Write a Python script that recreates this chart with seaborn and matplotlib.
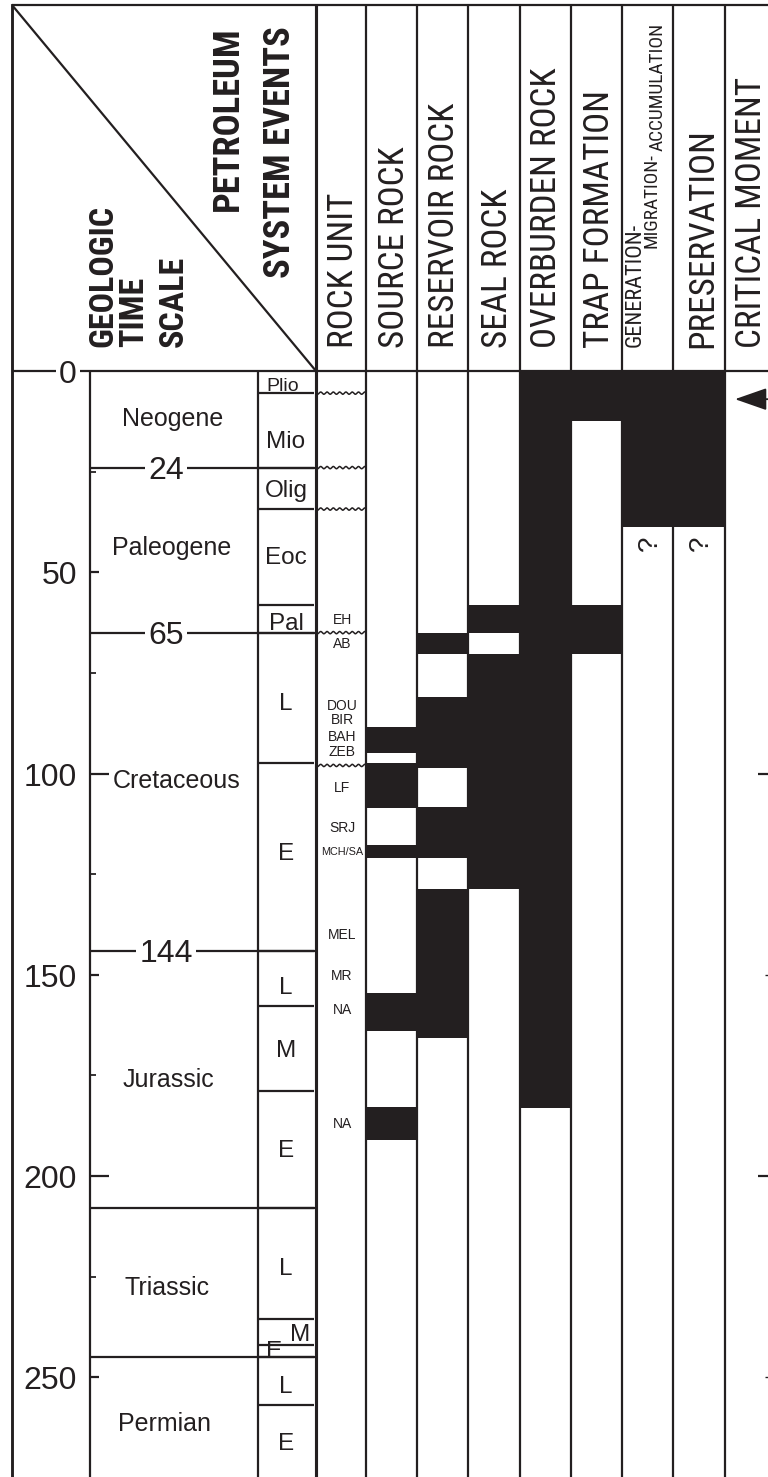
import numpy as np
import seaborn as sns
import matplotlib.pyplot as plt
from matplotlib import font_manager
from matplotlib.font_manager import FontProperties


# geologic time scale, ages in Ma
periods = ['Neogene', 'Paleogene', 'Cretaceous', 'Jurassic', 'Triassic', 'Permian']
period_bounds = [0, 24, 65, 144, 208, 245, 290]
boundary_ages = [24, 65, 144]
epochs = ['Plio', 'Mio', 'Olig', 'Eoc', 'Pal', 'L', 'E', 'L', 'M', 'E', 'L', 'M', 'E', 'L', 'E']
epoch_bounds = [0, 5.5, 24, 34.3, 58.1, 65, 97.3, 144, 157.7, 178.8, 208, 235.5, 242, 245, 256.9, 290]
unconformities = [5.5, 24, 34.3, 65, 98]
age_ticks = [0, 50, 100, 150, 200, 250]
minor_ticks = [25, 75, 125, 175, 225]

# rock units and the age they are written at
rock_units = ['EH', 'AB', 'DOU', 'BIR', 'BAH', 'ZEB', 'LF', 'SRJ', 'MCH/SA', 'MEL', 'MR', 'NA', 'NA']
rock_unit_ages = [62.9, 68.7, 84.1, 87.7, 91.9, 95.7, 104.7, 114.6, 120.2, 141.2, 151.3, 159.8, 188.1]

# petroleum system events (top, base) in Ma
events = ['SOURCE ROCK', 'RESERVOIR ROCK', 'SEAL ROCK', 'OVERBURDEN ROCK',
          'TRAP FORMATION', 'GENERATION-MIGRATION-ACCUMULATION', 'PRESERVATION']
source_rock = [(88.4, 94.9), (97.3, 108.5), (117.8, 120.9), (154.5, 164.0), (182.9, 191.0)]
reservoir_rock = [(65.0, 70.2), (80.9, 98.6), (108.3, 121.0), (128.7, 165.7)]
seal_rock = [(58.1, 65.0), (70.2, 128.7)]
overburden_rock = [(0, 183.2)]
trap_formation = [(0, 12.3), (58.1, 70.2)]
gen_mig_acc = [(0, 38.8)]
preservation = [(0, 38.8)]
event_spans = [source_rock, reservoir_rock, seal_rock, overburden_rock,
               trap_formation, gen_mig_acc, preservation]
uncertain = [False, False, False, False, False, True, True]
critical_moment = 7


# ---- layout (pixels of the 768x1477 picture) ----
PX0 = 371        # row of 0 Ma
PX_MA = 4.025    # pixels per Ma


def ma(py):
	return (py - PX0) / PX_MA


INK = '#231f20'
LW = 1.6
y_top = ma(0)
y_bot = ma(1477)
y_head = ma(5)
x_left, x_axis, x_epoch = 12, 90, 258
col_edges = [316, 366, 417, 468, 520, 571, 622, 673, 725, 790]

sns.set_theme(style='white')
plt.rcParams['font.family'] = ['Liberation Sans', 'DejaVu Sans']

# header lettering is a condensed sans in the original, use one if there is any
fonts = {(f.name, str(f.stretch)) for f in font_manager.fontManager.ttflist}
font_names = {n for n, s in fonts}
if 'Liberation Sans Narrow' in font_names:
	head = dict(family='Liberation Sans Narrow')
elif 'Roboto Condensed' in font_names:
	head = dict(family='Roboto Condensed')
elif ('Roboto', 'condensed') in fonts:
	head = dict(family='Roboto', stretch='condensed')
else:
	head = dict(family='Liberation Sans')

fig = plt.figure(figsize=(7.68, 14.77), dpi=100)
ax = fig.add_axes([0, 0, 1, 1])
ax.set_xlim(0, 768)
ax.set_ylim(y_bot, y_top)
ax.axis('off')
renderer = fig.canvas.get_renderer()


def fit_size(words, lengths, weight='normal'):
	# font size that gives the words the lengths (px) they have in the original
	sizes = []
	for w, L in zip(words, lengths):
		t = ax.text(0, 0, w, fontproperties=FontProperties(size=20, weight=weight, **head))
		sizes.append(20 * L / t.get_window_extent(renderer).width)
		t.remove()
	return sizes


def head_text(x, py, s, size, ha='left', weight='normal'):
	ax.text(x, ma(py), s, rotation=90, rotation_mode='anchor', ha=ha, va='baseline', color=INK,
			fontproperties=FontProperties(size=size, weight=weight, **head))


# frame and grid lines
ax.hlines([y_head, 0], x_left, 790, color=INK, lw=LW)
ax.vlines(x_left, y_head, y_bot, color=INK, lw=LW * 1.3)
ax.plot([x_left, col_edges[0]], [y_head, 0], color=INK, lw=LW)
ax.vlines([x_axis, x_epoch], 0, y_bot, color=INK, lw=LW)
ax.vlines(col_edges[0], y_head, y_bot, color=INK, lw=LW * 1.4)
ax.vlines(col_edges[1:-1], y_head, y_bot, color=INK, lw=LW)

# period and epoch boundaries
ax.hlines(period_bounds[1:-1], x_axis, col_edges[0], color=INK, lw=LW)
ax.hlines(epoch_bounds[1:-1], x_epoch, col_edges[0] - 2, color=INK, lw=LW)

# unconformities in the rock unit column
xw = np.linspace(col_edges[0], col_edges[1], 150)
for age in unconformities:
	ax.plot(xw, age + 0.28 * np.sin(2 * np.pi * (xw - xw[0]) / 6.3), color=INK, lw=1.1)

# age axis ticks
for t in age_ticks[1:]:
	ln = 19 if t in (100, 200) else 9
	ax.hlines(t, x_axis, x_axis + ln, color=INK, lw=LW)
ax.hlines(minor_ticks, x_axis, x_axis + 6, color=INK, lw=LW * 0.8)
for t in age_ticks:
	ax.text(77, t + 12 / PX_MA, str(t), ha='right', va='baseline', fontsize=23, color=INK,
			bbox=dict(facecolor='white', edgecolor='none', pad=2) if t == 0 else None)
for t in boundary_ages:
	ax.text(166, t + 11.5 / PX_MA, str(t), ha='center', va='baseline', fontsize=23, color=INK,
			bbox=dict(facecolor='white', edgecolor='none', pad=2))

# right edge ticks (critical moment column)
ax.hlines([100, 200], 758, 790, color=INK, lw=LW)
ax.hlines([150, 250], 765, 790, color=INK, lw=LW * 0.6)

# period names
period_x = [173, 172, 177, 168, 167, 165]
period_base = [13.6, 45.7, 103.7, 177.8, 229.6, 263.4]
for name, x, y in zip(periods, period_x, period_base):
	ax.text(x, y, name, ha='center', va='baseline', fontsize=18, color=INK)

# epoch names
epoch_x = [283, 286, 286, 286, 286, 286, 286, 286, 286, 286, 286, 300, 274, 286, 286]
epoch_base = [4.9, 19.2, 31.4, 47.9, 64.3, 84.1, 121.5, 154.8, 170.5, 195.2, 224.6, 241.0, 245.1, 254.0, 268.1]
for name, x, y in zip(epochs, epoch_x, epoch_base):
	ax.text(x, y, name, ha='center', va='baseline', fontsize=14 if name == 'Plio' else 17.5, color=INK)

# rock unit labels
for name, y in zip(rock_units, rock_unit_ages):
	ax.text(342, y, name, ha='center', va='baseline', fontsize=7.8 if '/' in name else 10, color=INK)

# event bars
for i, spans in enumerate(event_spans):
	left, right = col_edges[i + 1], col_edges[i + 2]
	tops = [s[0] for s in spans]
	lengths = [s[1] - s[0] for s in spans]
	ax.bar([(left + right) / 2] * len(spans), lengths, bottom=tops, width=right - left,
		   color=INK, linewidth=0, zorder=3)
	if uncertain[i]:
		base = max(s[1] for s in spans)
		ax.text((left + right) / 2 + 2, base + 4, '?', rotation=90, ha='center', va='center',
				fontsize=20, color=INK)

# critical moment arrow
ax.annotate('', xy=(735, critical_moment), xytext=(790, critical_moment),
			arrowprops=dict(arrowstyle='-|>,head_length=1.66,head_width=0.58', color=INK,
							lw=1.3, shrinkA=0, shrinkB=0), zorder=4)

# header: the diagonal box
words = ['GEOLOGIC', 'TIME', 'SCALE']
size = np.mean(fit_size(words, [147, 63, 97], 'bold'))
for w, x in zip(words, [112, 143, 183]):
	head_text(x, 347, w, size, weight='bold')
words = ['PETROLEUM', 'SYSTEM EVENTS']
size = np.mean(fit_size(words, [185, 252], 'bold'))
for w, x in zip(words, [238, 290]):
	head_text(x, 26, w, size, ha='right', weight='bold')

# header: column titles
titles = ['ROCK UNIT', 'SOURCE ROCK', 'RESERVOIR ROCK', 'SEAL ROCK', 'OVERBURDEN ROCK',
		  'TRAP FORMATION', 'PRESERVATION', 'CRITICAL MOMENT']
size = 0.95 * np.mean(fit_size(titles, [155, 218, 267, 168, 305, 266, 231, 278]))
for w, x in zip(titles, [353, 404, 454, 507, 556, 609, 712, 761]):
	head_text(x, 348, w, size)

# the long title is stepped over three lines
gma_parts = events[5].replace('-', '- ').split()
sizes = fit_size(gma_parts, [124, 95, 128])
for w, x, py, s in zip(gma_parts, [641, 656, 663], [347, 248, 151], sizes):
	head_text(x, py, w, s)

fig.savefig('out.png', dpi=100)
